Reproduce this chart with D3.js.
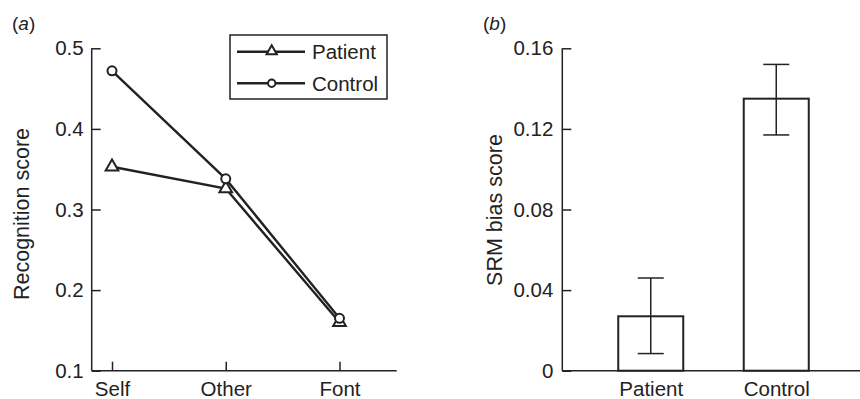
<!DOCTYPE html>
<html>
<head>
<meta charset="utf-8">
<script src="https://cdn.jsdelivr.net/npm/d3@7"></script>
<style>
  html, body { margin: 0; padding: 0; background: #fff; }
  svg { display: block; font-family: "Liberation Sans", Arial, sans-serif; }
</style>
</head>
<body>
<svg id="chart" width="860" height="399"></svg>
<script>
// ---- Data ----
const conditions = ["Self", "Other", "Font"];
const patientScores = [0.353, 0.326, 0.160];
const controlScores = [0.472, 0.338, 0.165];
const recogTicks = [0.1, 0.2, 0.3, 0.4, 0.5];

const groups = ["Patient", "Control"];
const srmMeans = [0.027, 0.135];
const srmLower = [0.0085, 0.117];
const srmUpper = [0.046, 0.152];
const srmTicks = [0, 0.04, 0.08, 0.12, 0.16];

const ink = "#222";
const svg = d3.select("#chart");

// ---- Panel (a) ----
const a = { left: 91.7, right: 396.7, top: 48.3, bottom: 370.7 };
const xA = d3.scalePoint().domain(conditions).range([112, 339.5]);
const yA = d3.scaleLinear().domain([0.1, 0.5]).range([a.bottom, a.top]);

const gA = svg.append("g");

// axes
const yAxisA = d3.axisLeft(yA).tickValues(recogTicks).tickFormat(d3.format(".1f"))
  .tickSizeInner(-9).tickSizeOuter(0).tickPadding(8);
gA.append("g").attr("transform", `translate(${a.left},0)`).call(yAxisA)
  .call(g => g.select(".domain").remove());
const xAxisA = d3.axisBottom(xA).tickSizeInner(-9).tickSizeOuter(0).tickPadding(10.5);
gA.append("g").attr("transform", `translate(0,${a.bottom})`).call(xAxisA)
  .call(g => g.select(".domain").remove());
gA.append("line").attr("x1", a.left).attr("x2", a.left).attr("y1", a.top).attr("y2", a.bottom)
  .attr("stroke", ink).attr("stroke-width", 1.5);
gA.append("line").attr("x1", a.left).attr("x2", a.right).attr("y1", a.bottom).attr("y2", a.bottom)
  .attr("stroke", ink).attr("stroke-width", 1.5);

gA.selectAll(".tick line").attr("stroke", ink).attr("stroke-width", 1.5);
gA.selectAll(".tick text").attr("fill", ink).attr("font-size", 20.5)
  .attr("font-family", "'Liberation Sans', Arial, sans-serif");

// lines
const lineA = d3.line().x((d, i) => xA(conditions[i])).y(d => yA(d));
gA.append("path").datum(controlScores).attr("d", lineA)
  .attr("fill", "none").attr("stroke", ink).attr("stroke-width", 2.4);
gA.append("path").datum(patientScores).attr("d", lineA)
  .attr("fill", "none").attr("stroke", ink).attr("stroke-width", 2.4);

const tri = d3.symbol().type(d3.symbolTriangle).size(70);
const triSmall = d3.symbol().type(d3.symbolTriangle).size(45);

gA.selectAll(".pt-p").data(patientScores).join("path")
  .attr("d", tri).attr("transform", (d, i) => `translate(${xA(conditions[i])},${yA(d)})`)
  .attr("fill", "#fff").attr("stroke", ink).attr("stroke-width", 2);
gA.selectAll(".pt-c").data(controlScores).join("circle")
  .attr("cx", (d, i) => xA(conditions[i])).attr("cy", d => yA(d)).attr("r", 4.5)
  .attr("fill", "#fff").attr("stroke", ink).attr("stroke-width", 2);

// legend
const leg = gA.append("g");
leg.append("rect").attr("x", 230).attr("y", 35).attr("width", 157).attr("height", 64)
  .attr("fill", "#fff").attr("stroke", ink).attr("stroke-width", 1.5);
const legItems = [{ name: "Patient", y: 51.7 }, { name: "Control", y: 83.3 }];
legItems.forEach(it => {
  leg.append("line").attr("x1", 237).attr("x2", 305).attr("y1", it.y).attr("y2", it.y)
    .attr("stroke", ink).attr("stroke-width", 2.4);
  if (it.name === "Patient") {
    leg.append("path").attr("d", triSmall).attr("transform", `translate(271.7,${it.y - 0.5})`)
      .attr("fill", "#fff").attr("stroke", ink).attr("stroke-width", 2);
  } else {
    leg.append("circle").attr("cx", 271.7).attr("cy", it.y).attr("r", 3.7)
      .attr("fill", "#fff").attr("stroke", ink).attr("stroke-width", 2);
  }
  leg.append("text").attr("x", 312).attr("y", it.y).attr("dy", "0.36em")
    .attr("font-size", 20.5).attr("fill", ink).text(it.name);
});

// labels
gA.append("text").attr("transform", "translate(29,214) rotate(-90)")
  .attr("text-anchor", "middle").attr("font-size", 21.5).attr("fill", ink).text("Recognition score");
const la = gA.append("text").attr("x", 12).attr("y", 30).attr("font-size", 19).attr("fill", ink);
la.append("tspan").text("(");
la.append("tspan").attr("font-style", "italic").text("a");
la.append("tspan").text(")");

// ---- Panel (b) ----
const b = { left: 562.3, right: 860, top: 48.3, bottom: 370.7 };
const xB = d3.scalePoint().domain(groups).range([588, 839]).padding(0.5);
const yB = d3.scaleLinear().domain([0, 0.16]).range([b.bottom, b.top]);
const barW = 65;

const gB = svg.append("g");
const yAxisB = d3.axisLeft(yB).tickValues(srmTicks).tickFormat(d => d === 0 ? "0" : d3.format(".2f")(d))
  .tickSizeInner(-9).tickSizeOuter(0).tickPadding(9);
gB.append("g").attr("transform", `translate(${b.left},0)`).call(yAxisB)
  .call(g => g.select(".domain").remove());
const xAxisB = d3.axisBottom(xB).tickSizeInner(0).tickSizeOuter(0).tickPadding(10.5);
gB.append("g").attr("transform", `translate(0,${b.bottom})`).call(xAxisB)
  .call(g => g.select(".domain").remove());
gB.selectAll(".tick line").attr("stroke", ink).attr("stroke-width", 1.5);
gB.selectAll(".tick text").attr("fill", ink).attr("font-size", 20.5)
  .attr("font-family", "'Liberation Sans', Arial, sans-serif");

// bars
gB.selectAll(".bar").data(srmMeans).join("rect")
  .attr("x", (d, i) => xB(groups[i]) - barW / 2).attr("width", barW)
  .attr("y", d => yB(d)).attr("height", d => yB(0) - yB(d))
  .attr("fill", "#fff").attr("stroke", ink).attr("stroke-width", 2);

// axes lines
gB.append("line").attr("x1", b.left).attr("x2", b.left).attr("y1", b.top).attr("y2", b.bottom)
  .attr("stroke", ink).attr("stroke-width", 1.5);
gB.append("line").attr("x1", b.left).attr("x2", b.right).attr("y1", b.bottom).attr("y2", b.bottom)
  .attr("stroke", ink).attr("stroke-width", 1.5);

// error bars
const capW = 26;
groups.forEach((g, i) => {
  const cx = xB(g);
  gB.append("line").attr("x1", cx).attr("x2", cx).attr("y1", yB(srmUpper[i])).attr("y2", yB(srmLower[i]))
    .attr("stroke", ink).attr("stroke-width", 1.5);
  [srmUpper[i], srmLower[i]].forEach(v => {
    gB.append("line").attr("x1", cx - capW / 2).attr("x2", cx + capW / 2).attr("y1", yB(v)).attr("y2", yB(v))
      .attr("stroke", ink).attr("stroke-width", 1.5);
  });
});

gB.append("text").attr("transform", "translate(501.5,210) rotate(-90)")
  .attr("text-anchor", "middle").attr("font-size", 21.5).attr("fill", ink).text("SRM bias score");
const lb = gB.append("text").attr("x", 483).attr("y", 30).attr("font-size", 19).attr("fill", ink);
lb.append("tspan").text("(");
lb.append("tspan").attr("font-style", "italic").text("b");
lb.append("tspan").text(")");
</script>
</body>
</html>
